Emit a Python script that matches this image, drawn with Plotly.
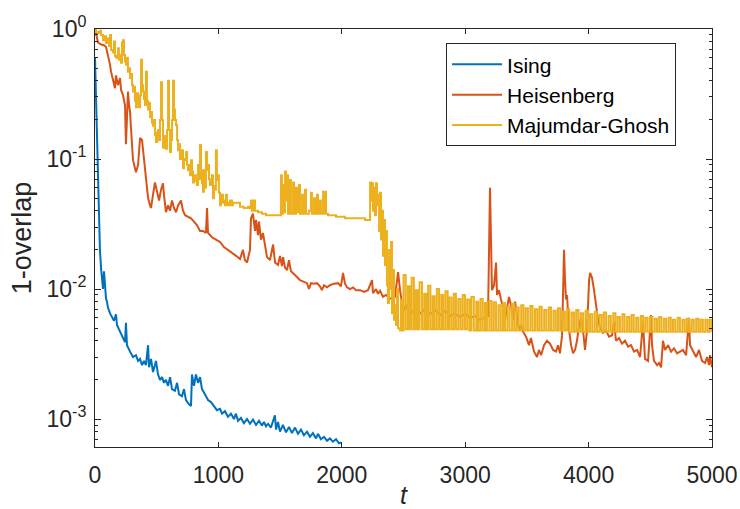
import plotly.graph_objects as go

# ---------------- data ----------------
ising_t = [0, 8, 16, 24, 32, 40, 49, 57, 65, 73, 81, 89, 97, 105, 122, 138, 154, 170, 178, 203,
           227, 243, 251, 259, 284, 308, 332, 349, 365, 381, 397, 413, 430, 438, 454, 470, 486, 494,
           511, 527, 543, 559, 575, 592, 608, 624, 648, 665, 681, 705, 721, 737, 762, 778, 786, 802,
           818, 835, 851, 867, 891, 916, 940, 964, 988, 1013, 1029, 1053, 1078, 1102, 1126, 1142,
           1159, 1183, 1207, 1232, 1256, 1280, 1305, 1329, 1353, 1369, 1386, 1402, 1426, 1458, 1467,
           1483, 1499, 1523, 1548, 1572, 1596, 1621, 1645, 1669, 1693, 1718, 1742, 1766, 1791, 1807,
           1831, 1856, 1880, 1904, 1928, 1953, 1977, 1993]
ising_v = [0.60, 0.28, 0.117, 0.069, 0.037, 0.020, 0.0145, 0.0117, 0.0100, 0.0137, 0.0095, 0.0085,
           0.0080, 0.0072, 0.0065, 0.0060, 0.0057, 0.0064, 0.0053, 0.0047, 0.0042, 0.0039, 0.0055,
           0.0037, 0.0033, 0.0030, 0.0031, 0.0028, 0.0029, 0.0026, 0.0028, 0.0026, 0.0037, 0.0025,
           0.0029, 0.0023, 0.0026, 0.0028, 0.0022, 0.0020, 0.0021, 0.0019, 0.0020, 0.0018, 0.0021,
           0.0017, 0.00165, 0.0019, 0.00155, 0.0015, 0.0017, 0.0014, 0.0013, 0.00126, 0.0022, 0.0018,
           0.0022, 0.0019, 0.0021, 0.0017, 0.00155, 0.0014, 0.00135, 0.00126, 0.00117, 0.0012, 0.0011,
           0.00115, 0.00104, 0.0011, 0.0010, 0.0011, 0.00097, 0.00102, 0.00093, 0.0010, 0.00092,
           0.00099, 0.0009, 0.00097, 0.00089, 0.00095, 0.00088, 0.00092, 0.00086, 0.00107, 0.00083,
           0.00095, 0.0008, 0.0009, 0.00079, 0.00087, 0.00078, 0.00086, 0.00077, 0.00083, 0.00075,
           0.0008, 0.00073, 0.00078, 0.00071, 0.00077, 0.0007, 0.00073, 0.00068, 0.00071, 0.00067,
           0.0007, 0.00065, 0.00066]

heis_t = [0, 8, 24, 49, 73, 89, 105, 122, 130, 146, 162, 170, 186, 203, 211, 227, 243, 251, 259, 267,
          276, 284, 292, 308, 324, 332, 349, 365, 381, 389, 405, 421, 430, 446, 454, 470, 486, 503,
          519, 535, 551, 559, 575, 592, 608, 624, 640, 657, 673, 697, 713, 730, 754, 778, 802, 826,
          851, 875, 899, 908, 916, 948, 980, 1013, 1045, 1078, 1110, 1143, 1175, 1199, 1215, 1232,
          1256, 1264, 1280, 1297, 1305, 1321, 1329, 1345, 1361, 1378, 1394, 1418, 1443, 1459, 1483,
          1499, 1515, 1524, 1540, 1556, 1572, 1588, 1605, 1629, 1661, 1694, 1718, 1734, 1750, 1775,
          1799, 1823, 1839, 1856, 1880, 1904, 1937, 1969, 1993, 2010, 2026, 2042, 2067, 2091, 2115,
          2148, 2180, 2212, 2245, 2253, 2277, 2293, 2310, 2334, 2358, 2383, 2407, 2431, 2456, 2472,
          2488, 2512, 2537, 2569, 2601, 2634, 2674, 2715, 2755, 2796, 2836, 2877, 2917, 2958, 2999,
          3039, 3080, 3120, 3161, 3185, 3201, 3209, 3217, 3234, 3250, 3258, 3274, 3290, 3307, 3323,
          3339, 3355, 3371, 3388, 3404, 3420, 3436, 3452, 3469, 3493, 3517, 3533, 3558, 3582, 3598,
          3615, 3639, 3663, 3687, 3712, 3736, 3752, 3768, 3785, 3801, 3809, 3817, 3825, 3842, 3858,
          3874, 3890, 3906, 3923, 3939, 3955, 3971, 3987, 3996, 4004, 4012, 4028, 4044, 4060, 4077,
          4093, 4117, 4141, 4166, 4190, 4206, 4222, 4247, 4271, 4295, 4320, 4344, 4368, 4393, 4417,
          4441, 4457, 4482, 4506, 4514, 4530, 4555, 4571, 4587, 4603, 4619, 4644, 4668, 4692, 4717,
          4741, 4765, 4790, 4814, 4822, 4846, 4871, 4895, 4919, 4944, 4960, 4976, 4984, 5000]
heis_v = [1.0, 0.90, 0.79, 0.76, 0.75, 0.73, 0.63, 0.53, 0.47, 0.40, 0.35, 0.44, 0.37, 0.42, 0.34,
          0.31, 0.26, 0.13, 0.24, 0.33, 0.26, 0.23, 0.17, 0.098, 0.085, 0.079, 0.09, 0.145, 0.14,
          0.117, 0.079, 0.058, 0.05, 0.044, 0.042, 0.053, 0.066, 0.056, 0.048, 0.058, 0.065, 0.053,
          0.039, 0.044, 0.040, 0.048, 0.042, 0.039, 0.044, 0.048, 0.040, 0.037, 0.036, 0.035, 0.033,
          0.031, 0.028, 0.028, 0.027, 0.042, 0.027, 0.025, 0.024, 0.023, 0.021, 0.020, 0.019, 0.018,
          0.017, 0.020, 0.0167, 0.016, 0.020, 0.035, 0.038, 0.028, 0.034, 0.026, 0.033, 0.024, 0.027,
          0.021, 0.0176, 0.0167, 0.022, 0.016, 0.0153, 0.018, 0.015, 0.0176, 0.0146, 0.014, 0.0167,
          0.0137, 0.0133, 0.0126, 0.0117, 0.0114, 0.0111, 0.0100, 0.0111, 0.011, 0.0111, 0.0105,
          0.0098, 0.0107, 0.0103, 0.0107, 0.011, 0.0111, 0.0105, 0.0133, 0.011, 0.0103, 0.0100,
          0.0103, 0.0098, 0.0098, 0.0095, 0.0098, 0.0117, 0.0093, 0.0100, 0.0092, 0.0097, 0.0087,
          0.0090, 0.0086, 0.0083, 0.0087, 0.0135, 0.0098, 0.0078, 0.0069, 0.0077, 0.0066, 0.0071,
          0.0065, 0.0070, 0.0064, 0.0069, 0.0063, 0.0068, 0.0062, 0.0065, 0.0061, 0.0064, 0.0060,
          0.0062, 0.0058, 0.0060, 0.0062, 0.060, 0.028, 0.0098, 0.0107, 0.016, 0.0090, 0.0098, 0.0083,
          0.0073, 0.0058, 0.0069, 0.0087, 0.0075, 0.0058, 0.0080, 0.0063, 0.0048, 0.0053, 0.0047,
          0.0043, 0.0037, 0.0042, 0.0033, 0.0030, 0.0034, 0.0031, 0.0037, 0.0040, 0.0038, 0.0034,
          0.0033, 0.0037, 0.0032, 0.0044, 0.020, 0.0117, 0.0083, 0.0090, 0.0048, 0.0037, 0.0032,
          0.0034, 0.0040, 0.0053, 0.0060, 0.0048, 0.0034, 0.0048, 0.0083, 0.0117, 0.0133, 0.0122,
          0.0098, 0.0075, 0.0058, 0.0050, 0.0046, 0.0048, 0.0043, 0.0044, 0.0056, 0.0040, 0.0042,
          0.0038, 0.0040, 0.0036, 0.0037, 0.0033, 0.0034, 0.0030, 0.0056, 0.0029, 0.0028, 0.0063,
          0.0037, 0.0028, 0.0026, 0.0027, 0.0025, 0.0040, 0.0034, 0.0037, 0.0033, 0.0035, 0.0032,
          0.0033, 0.0034, 0.0031, 0.0060, 0.0037, 0.0033, 0.0030, 0.0034, 0.0028, 0.0027, 0.0030,
          0.0026, 0.0031, 0.0025]

# Majumdar-Ghosh, as (t, value) pairs
mg_points = [
    (0, 1.0), (8, 0.95), (24, 0.93), (40, 0.97), (49, 0.90), (65, 0.82), (80, 0.88), (89, 0.78),
    (105, 0.85), (113, 0.74), (122, 0.90), (130, 0.69), (146, 0.66), (154, 0.80), (162, 0.62),
    (170, 0.60), (186, 0.71), (194, 0.58), (203, 0.63), (211, 0.55), (219, 0.79), (227, 0.82),
    (235, 0.63), (243, 0.56), (251, 0.53), (259, 0.60), (267, 0.47), (275, 0.50), (284, 0.42),
    (292, 0.45), (300, 0.37), (308, 0.33), (316, 0.36), (324, 0.28), (332, 0.25), (340, 0.32),
    (349, 0.28), (357, 0.25), (365, 0.31), (373, 0.58), (381, 0.37), (389, 0.33), (397, 0.29),
    (405, 0.26), (413, 0.47), (421, 0.28), (430, 0.24), (438, 0.27), (446, 0.21), (454, 0.23),
    (462, 0.19), (470, 0.18), (478, 0.20), (486, 0.153), (494, 0.135), (503, 0.16), (511, 0.167),
    (519, 0.14), (527, 0.20), (535, 0.39), (543, 0.20), (551, 0.122), (559, 0.15), (567, 0.14),
    (575, 0.12), (584, 0.167), (592, 0.40), (600, 0.167), (608, 0.113), (616, 0.14), (624, 0.20),
    (632, 0.40), (640, 0.24), (648, 0.20), (657, 0.183), (665, 0.14), (673, 0.117), (681, 0.13),
    (689, 0.10), (697, 0.11), (705, 0.117), (713, 0.085), (721, 0.10), (730, 0.098), (738, 0.113),
    (746, 0.09), (754, 0.082), (762, 0.09), (770, 0.075), (778, 0.098), (786, 0.08), (794, 0.066),
    (802, 0.072), (810, 0.075), (818, 0.068), (826, 0.063), (835, 0.09), (843, 0.07),
    (851, 0.128), (859, 0.082), (867, 0.065), (875, 0.056), (883, 0.082), (891, 0.06),
    (899, 0.113), (908, 0.082), (916, 0.09), (924, 0.07), (932, 0.063), (940, 0.07), (948, 0.075),
    (956, 0.050), (964, 0.062), (972, 0.058), (980, 0.117), (988, 0.069), (996, 0.075),
    (1004, 0.055), (1013, 0.044), (1021, 0.05), (1029, 0.053), (1037, 0.046), (1045, 0.048),
    (1053, 0.044), (1062, 0.053), (1070, 0.046), (1078, 0.044), (1094, 0.048), (1110, 0.044),
    (1118, 0.046), (1143, 0.046), (1175, 0.043), (1207, 0.042), (1240, 0.043), (1256, 0.042),
    (1264, 0.048), (1272, 0.040), (1288, 0.048), (1297, 0.040), (1321, 0.039), (1353, 0.038),
    (1386, 0.037), (1418, 0.037), (1459, 0.037), (1499, 0.037), (1507, 0.075), (1515, 0.038),
    (1524, 0.063), (1532, 0.039), (1540, 0.08), (1548, 0.048), (1556, 0.075), (1564, 0.038),
    (1580, 0.069), (1588, 0.038), (1605, 0.066), (1613, 0.038), (1629, 0.06), (1637, 0.039),
    (1653, 0.063), (1661, 0.038), (1678, 0.053), (1686, 0.038), (1702, 0.058), (1710, 0.038),
    (1734, 0.040), (1750, 0.055), (1758, 0.038), (1775, 0.050), (1783, 0.038), (1799, 0.053),
    (1807, 0.038), (1823, 0.048), (1831, 0.038), (1848, 0.056), (1856, 0.038), (1864, 0.056),
    (1872, 0.038), (1888, 0.037), (1920, 0.037), (1953, 0.036), (1985, 0.036), (2026, 0.035),
    (2067, 0.035), (2107, 0.035), (2148, 0.035), (2188, 0.034), (2221, 0.034), (2229, 0.066),
    (2237, 0.048), (2245, 0.065), (2253, 0.040), (2261, 0.06), (2269, 0.037), (2277, 0.065),
    (2285, 0.044), (2293, 0.053), (2302, 0.028), (2310, 0.055), (2318, 0.024), (2326, 0.040),
    (2334, 0.018), (2342, 0.034), (2350, 0.0153), (2358, 0.028), (2366, 0.0107), (2374, 0.0078),
    (2383, 0.020), (2391, 0.010), (2399, 0.023), (2407, 0.0065), (2415, 0.014), (2423, 0.0058),
    (2431, 0.0075), (2439, 0.0053), (2448, 0.010), (2456, 0.0050), (2472, 0.0048), (2480, 0.0082),
    (2488, 0.0048),
    (2500, 0.0128), (2518, 0.0049), (2536, 0.0105), (2552, 0.0049), (2566, 0.0122), (2584, 0.0049),
    (2600, 0.0098), (2615, 0.0049), (2630, 0.0113), (2650, 0.0049), (2668, 0.0092), (2684, 0.0049),
    (2700, 0.0106), (2718, 0.0049), (2736, 0.0088), (2752, 0.0049), (2770, 0.0100), (2788, 0.0049),
    (2806, 0.0090), (2822, 0.0049), (2840, 0.0096), (2858, 0.0049), (2872, 0.0086), (2890, 0.0049),
    (2908, 0.0092), (2925, 0.0049), (2944, 0.0084), (2962, 0.0049), (2980, 0.0090), (2998, 0.0049),
    (3016, 0.0083), (3034, 0.0048), (3050, 0.0087), (3070, 0.0048), (3090, 0.0080), (3106, 0.0048),
    (3124, 0.0084), (3142, 0.0048), (3160, 0.0078), (3176, 0.0048), (3196, 0.0081), (3214, 0.0048),
    (3232, 0.0079), (3250, 0.0048), (3270, 0.0075), (3288, 0.0048), (3306, 0.0078), (3322, 0.0048),
    (3342, 0.0073), (3360, 0.0048), (3380, 0.0077), (3398, 0.0048), (3416, 0.0072), (3434, 0.0048),
    (3454, 0.0075), (3472, 0.0048), (3490, 0.0071), (3508, 0.0048), (3528, 0.0074), (3546, 0.0048),
    (3566, 0.0070), (3584, 0.0048), (3602, 0.0073), (3620, 0.0048), (3640, 0.0069), (3658, 0.0048),
    (3678, 0.0072), (3696, 0.0048), (3716, 0.0068), (3734, 0.0048), (3752, 0.0071), (3770, 0.0048),
    (3790, 0.0067), (3808, 0.0048), (3826, 0.0070), (3844, 0.0047), (3864, 0.0066), (3882, 0.0047),
    (3900, 0.0069), (3918, 0.0047), (3938, 0.0065), (3956, 0.0047), (3976, 0.0068), (3994, 0.0047),
    (4012, 0.0064), (4030, 0.0047), (4050, 0.0067), (4068, 0.0047), (4088, 0.0063), (4106, 0.0047),
    (4124, 0.0066), (4142, 0.0047), (4162, 0.0062), (4180, 0.0047), (4200, 0.0065), (4218, 0.0047),
    (4236, 0.0061), (4254, 0.0047), (4274, 0.0064), (4292, 0.0047), (4312, 0.0061), (4330, 0.0047),
    (4348, 0.0063), (4366, 0.0047), (4386, 0.0060), (4404, 0.0047), (4424, 0.0062), (4442, 0.0047),
    (4460, 0.0060), (4478, 0.0047), (4498, 0.0061), (4516, 0.0047), (4536, 0.0059), (4554, 0.0047),
    (4572, 0.0061), (4590, 0.0047), (4610, 0.0059), (4628, 0.0047), (4648, 0.0060), (4666, 0.0047),
    (4684, 0.0058), (4702, 0.0047), (4722, 0.0060), (4740, 0.0047), (4760, 0.0058), (4778, 0.0047),
    (4796, 0.0059), (4814, 0.0047), (4834, 0.0058), (4852, 0.0047), (4872, 0.0059), (4890, 0.0047),
    (4908, 0.0058), (4926, 0.0047), (4946, 0.0058), (4964, 0.0047), (4982, 0.0058), (5000, 0.0047),
]
mg_t = [p[0] for p in mg_points]
mg_v = [p[1] for p in mg_points]

series_names = ["Ising", "Heisenberg", "Majumdar-Ghosh"]
series_colors = ["#0072BD", "#D95319", "#EDB120"]
series_shapes = ["linear", "linear", "hv"]

x_ticks = [0, 1000, 2000, 3000, 4000, 5000]
y_tick_vals = [1e-3, 1e-2, 1e-1, 1e0]
y_tick_text = ["10<sup>-3</sup>", "10<sup>-2</sup>", "10<sup>-1</sup>", "10<sup>0</sup>"]
y_minor_vals = [m * 10.0 ** e for e in (-4, -3, -2, -1) for m in range(2, 10)]

# ---------------- figure ----------------
FONT = "Arial, Liberation Sans, Helvetica, sans-serif"
AX = "#262626"

fig = go.Figure()
for name, tt, vv, col, shp in zip(series_names, [ising_t, heis_t, mg_t],
                                  [ising_v, heis_v, mg_v], series_colors, series_shapes):
    fig.add_trace(go.Scatter(x=tt, y=vv, mode="lines", name=name,
                             line=dict(color=col, width=2, shape=shp)))

fig.update_layout(
    width=740, height=509,
    margin=dict(l=95, r=28, t=29, b=62),
    paper_bgcolor="white", plot_bgcolor="white",
    font=dict(family=FONT, size=23, color=AX),
    showlegend=True,
    legend=dict(x=0.569, y=0.966, xanchor="left", yanchor="top",
                bordercolor=AX, borderwidth=1, bgcolor="white",
                font=dict(family=FONT, size=21, color="black"),
                itemwidth=50, tracegroupgap=0),
    annotations=[dict(text="1-overlap", textangle=-90, xref="paper", yref="paper",
                      x=-0.118, y=0.5, xanchor="center", yanchor="middle", showarrow=False,
                      font=dict(family=FONT, size=27, color=AX))],
)
fig.update_xaxes(
    range=[0, 5000], tickvals=x_ticks, ticktext=[str(v) for v in x_ticks],
    ticks="inside", ticklen=5, tickwidth=1, tickcolor=AX,
    showline=True, linecolor=AX, linewidth=1, mirror="ticks",
    showgrid=False, zeroline=False, automargin=False,
    ticklabelstandoff=7,
    tickfont=dict(family=FONT, size=23, color=AX),
    title=dict(text="<i>t</i>", font=dict(family=FONT, size=25, color=AX), standoff=1),
)
fig.update_yaxes(
    type="log", range=[-3.215, 0.0],
    tickvals=y_tick_vals, ticktext=y_tick_text,
    ticks="inside", ticklen=6, tickwidth=1, tickcolor=AX,
    minor=dict(tickvals=y_minor_vals, ticks="inside", ticklen=3, tickcolor=AX, showgrid=False),
    showline=True, linecolor=AX, linewidth=1, mirror="ticks",
    showgrid=False, zeroline=False, automargin=False,
    ticklabelstandoff=3,
    tickfont=dict(family=FONT, size=23, color=AX),
)

fig.write_html("out.html")
